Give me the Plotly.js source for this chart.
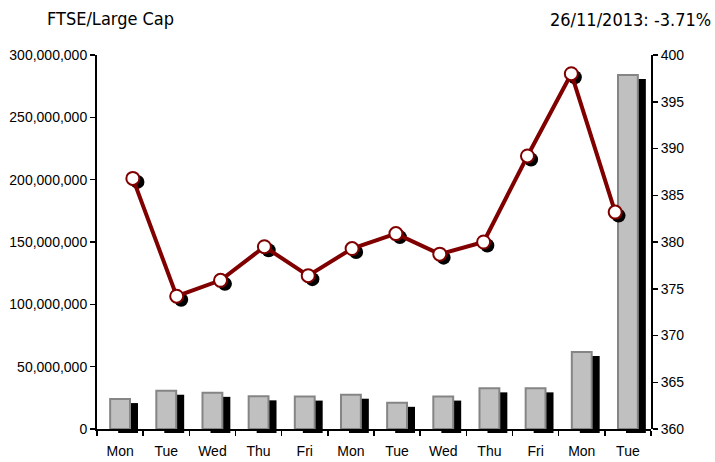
<!DOCTYPE html>
<html><head><meta charset="utf-8">
<script src="https://cdn.plot.ly/plotly-3.0.1.min.js"></script>
<style>html,body{margin:0;padding:0;background:#fff}#chart{width:715px;height:462px}</style>
</head><body><div id="chart"></div>
<script>
const dates = ['11/11/2013','12/11/2013','13/11/2013','14/11/2013','15/11/2013','18/11/2013','19/11/2013','20/11/2013','21/11/2013','22/11/2013','25/11/2013','26/11/2013'];
const dayLabels = ['Mon','Tue','Wed','Thu','Fri','Mon','Tue','Wed','Thu','Fri','Mon','Tue'];
const volume = [24.0e6, 30.7e6, 29.0e6, 26.2e6, 26.0e6, 27.5e6, 21.0e6, 26.0e6, 32.6e6, 32.6e6, 61.7e6, 284.0e6];
const indexLevel = [386.8, 374.2, 375.9, 379.5, 376.4, 379.3, 380.9, 378.7, 380.0, 389.2, 398.0, 383.2];
const volTicks = [0, 50e6, 100e6, 150e6, 200e6, 250e6, 300e6];
const idxTicks = [360, 365, 370, 375, 380, 385, 390, 395, 400];
const titleLeft = 'FTSE/Large Cap';
const titleRight = '26/11/2013: -3.71%';

const W = 715, H = 462;
const ml = 97, mr = 56, mt = 55, mb = 29;
const pw = W - ml - mr, ph = H - mt - mb;
const barDx = 8, barDy = 4, mkDx = 4, mkDy = 3.5;
const mainX = [0, (pw - barDx) / pw];
const mainY = [barDy / ph, 1];
const barShX = [barDx / pw, 1];
const barShY = [0, (ph - barDy) / ph];
const mkShX = [mkDx / pw, (pw - barDx + mkDx) / pw];
const mkShY = [(barDy - mkDy) / ph, (ph - mkDy) / ph];

const tickFont = {family: 'Liberation Sans, Arial, sans-serif', size: 14, color: '#000'};
const headFont = {family: 'DejaVu Sans Condensed, Liberation Sans Narrow, Arial Narrow, sans-serif', size: 18, color: '#000'};
const hidden = {visible: false, showgrid: false, zeroline: false, fixedrange: true};

const traces = [
  {type: 'bar', x: dates, y: volume, xaxis: 'x', yaxis: 'y', width: 0.43,
   marker: {color: '#000', line: {width: 0}}, hoverinfo: 'skip', showlegend: false},
  {type: 'bar', x: dates, y: volume, xaxis: 'x2', yaxis: 'y2', width: 0.43,
   marker: {color: '#C0C0C0', line: {color: '#858585', width: 2}}, showlegend: false},
  {type: 'scatter', mode: 'markers', x: dates, y: indexLevel, xaxis: 'x3', yaxis: 'y3',
   marker: {size: 14, color: '#000'}, hoverinfo: 'skip', showlegend: false, cliponaxis: false},
  {type: 'scatter', mode: 'lines+markers', x: dates, y: indexLevel, xaxis: 'x4', yaxis: 'y4',
   line: {color: '#800000', width: 4},
   marker: {size: 13, color: '#fff', line: {color: '#800000', width: 2}}, showlegend: false, cliponaxis: false}
];

const layout = {
  width: W, height: H,
  margin: {l: ml, r: mr, t: mt, b: mb},
  paper_bgcolor: '#fff', plot_bgcolor: 'rgba(0,0,0,0)',
  showlegend: false,
  title: {text: titleLeft, x: 47 / W, xref: 'container', xanchor: 'left',
          y: 1 - 19 / H, yref: 'container', yanchor: 'middle', font: headFont},
  annotations: [{text: titleRight, xref: 'paper', yref: 'paper', x: 1, y: 1,
                 xanchor: 'right', yanchor: 'middle', xshift: 713 - (W - mr), yshift: mt - 19,
                 showarrow: false, font: headFont}],
  xaxis: Object.assign({}, hidden, {type: 'category', domain: barShX, anchor: 'y'}),
  yaxis: Object.assign({}, hidden, {domain: barShY, anchor: 'x', range: [0, 300e6]}),
  xaxis2: {type: 'category', domain: mainX, anchor: 'y2', tickmode: 'array', tickvals: dates, ticktext: dayLabels,
           tickson: 'boundaries', ticks: 'outside', ticklen: 5, tickwidth: 1.5, tickcolor: '#000',
           ticklabelstandoff: 8,
           showline: true, linecolor: '#000', linewidth: 2, showgrid: false, zeroline: false,
           tickfont: tickFont, fixedrange: true},
  yaxis2: {domain: mainY, anchor: 'x2', range: [0, 300e6], tickmode: 'array', tickvals: volTicks, tickformat: ',d',
           ticks: 'outside', ticklen: 5, tickwidth: 1.5, tickcolor: '#000',
           showline: true, linecolor: '#000', linewidth: 2, showgrid: false, zeroline: false,
           tickfont: tickFont, fixedrange: true},
  xaxis3: Object.assign({}, hidden, {type: 'category', domain: mkShX, anchor: 'y3'}),
  yaxis3: Object.assign({}, hidden, {domain: mkShY, anchor: 'x3', range: [360, 400]}),
  xaxis4: Object.assign({}, hidden, {type: 'category', domain: mainX, anchor: 'y4'}),
  yaxis4: {domain: mainY, anchor: 'x4', side: 'right', range: [360, 400], tickmode: 'array', tickvals: idxTicks,
           ticks: 'outside', ticklen: 5, tickwidth: 1.5, tickcolor: '#000',
           showline: true, linecolor: '#000', linewidth: 2, showgrid: false, zeroline: false,
           tickfont: tickFont, fixedrange: true},
  yaxis5: {overlaying: 'y4', anchor: 'x4', side: 'right', range: [360, 400], tickmode: 'array', tickvals: idxTicks,
           ticks: 'inside', ticklen: 4, tickwidth: 1.5, tickcolor: '#000', showticklabels: false,
           showline: false, showgrid: false, zeroline: false, fixedrange: true}
};

Plotly.newPlot('chart', traces, layout, {displayModeBar: false, staticPlot: true});
</script>
</body></html>
